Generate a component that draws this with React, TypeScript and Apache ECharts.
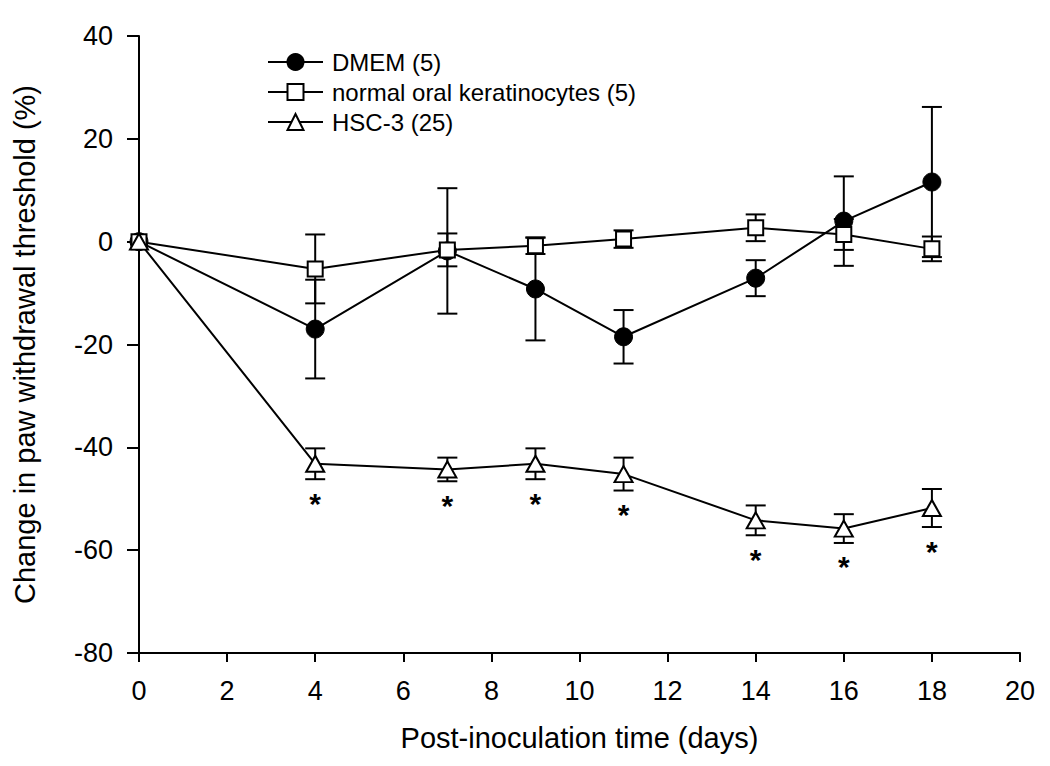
import React, { useEffect, useRef } from "react";
import * as echarts from "echarts";

const days = [0, 4, 7, 9, 11, 14, 16, 18];
const dmemMean = [0, -17.0, -1.8, -9.2, -18.5, -7.1, 4.0, 11.6];
const dmemErr = [0, 9.6, 12.2, 10.0, 5.2, 3.5, 8.7, 14.6];
const nokMean = [0, -5.3, -1.6, -0.8, 0.5, 2.7, 1.4, -1.4];
const nokErr = [0, 6.7, 3.2, 1.6, 1.7, 2.6, 3.0, 2.4];
const hscMean = [0, -43.2, -44.3, -43.2, -45.2, -54.2, -55.8, -51.8];
const hscErr = [0, 3.0, 2.3, 3.0, 3.2, 2.9, 2.8, 3.7];
const hscSignificant = [false, true, true, true, true, true, true, true];

const seriesNames = ["DMEM (5)", "normal oral keratinocytes (5)", "HSC-3 (25)"];
const xTicks = { min: 0, max: 20, interval: 2 };
const yTicks = { min: -80, max: 40, interval: 20 };

const FONT = "Liberation Sans, Arial, sans-serif";

function points(mean: number[]) {
  return days.map((d, i) => [d, mean[i]]);
}
function errData(mean: number[], err: number[]) {
  return days
    .map((d, i) => [d, mean[i] - err[i], mean[i] + err[i]])
    .filter((_, i) => err[i] > 0);
}

function errorSeries(mean: number[], err: number[]) {
  return {
    type: "custom",
    z: 1,
    silent: true,
    data: errData(mean, err),
    renderItem: (params: any, api: any) => {
      const x = api.value(0);
      const lo = api.coord([x, api.value(1)]);
      const hi = api.coord([x, api.value(2)]);
      const hw = 10;
      const style = { stroke: "#000", lineWidth: 2 };
      return {
        type: "group",
        children: [
          { type: "line", shape: { x1: lo[0], y1: lo[1], x2: hi[0], y2: hi[1] }, style },
          { type: "line", shape: { x1: lo[0] - hw, y1: lo[1], x2: lo[0] + hw, y2: lo[1] }, style },
          { type: "line", shape: { x1: hi[0] - hw, y1: hi[1], x2: hi[0] + hw, y2: hi[1] }, style },
        ],
      };
    },
  };
}

export default function App() {
  const ref = useRef<HTMLDivElement>(null);
  useEffect(() => {
    if (!ref.current) return;
    const chart = echarts.init(ref.current, null, { renderer: "svg" });
    const lineBase = {
      type: "line",
      z: 3,
      lineStyle: { color: "#000", width: 2 },
      itemStyle: { color: "#000", borderColor: "#000", borderWidth: 2 },
    };
    const starData = days
      .map((d, i) => [d, hscMean[i] - hscErr[i]])
      .filter((_, i) => hscSignificant[i]);
    chart.setOption({
      animation: false,
      backgroundColor: "#fff",
      grid: { left: 139, top: 36, width: 881, height: 617 },
      legend: {
        left: 262,
        top: 45,
        orient: "vertical",
        itemWidth: 55,
        itemHeight: 20,
        itemGap: 6,
        textStyle: { fontSize: 24, fontFamily: FONT, color: "#000", padding: [0, 0, 0, 4] },
        data: seriesNames,
      },
      xAxis: {
        type: "value",
        min: xTicks.min,
        max: xTicks.max,
        interval: xTicks.interval,
        name: "Post-inoculation time (days)",
        nameLocation: "middle",
        nameGap: 70,
        nameTextStyle: { fontSize: 29, fontFamily: FONT, color: "#000" },
        axisLine: { show: true, onZero: false, lineStyle: { color: "#000", width: 2 } },
        axisTick: { show: true, inside: false, length: 9, lineStyle: { color: "#000", width: 2 } },
        axisLabel: { fontSize: 27, fontFamily: FONT, color: "#000", margin: 24 },
        splitLine: { show: false },
      },
      yAxis: {
        type: "value",
        min: yTicks.min,
        max: yTicks.max,
        interval: yTicks.interval,
        name: "Change in paw withdrawal threshold (%)",
        nameLocation: "middle",
        nameGap: 100,
        nameTextStyle: { fontSize: 29, fontFamily: FONT, color: "#000" },
        axisLine: { show: true, onZero: false, lineStyle: { color: "#000", width: 2 } },
        axisTick: { show: true, inside: false, length: 12, lineStyle: { color: "#000", width: 2 } },
        axisLabel: { fontSize: 27, fontFamily: FONT, color: "#000", margin: 26 },
        splitLine: { show: false },
      },
      series: [
        errorSeries(dmemMean, dmemErr),
        errorSeries(nokMean, nokErr),
        errorSeries(hscMean, hscErr),
        {
          ...lineBase,
          name: seriesNames[0],
          data: points(dmemMean),
          symbol: "circle",
          symbolSize: 18,
          itemStyle: { color: "#000", borderColor: "#000", borderWidth: 1 },
        },
        {
          ...lineBase,
          name: seriesNames[1],
          data: points(nokMean),
          symbol: "rect",
          symbolSize: 15,
          z: 4,
          itemStyle: { color: "#fff", borderColor: "#000", borderWidth: 2 },
        },
        {
          ...lineBase,
          name: seriesNames[2],
          data: points(hscMean),
          symbol: "triangle",
          symbolSize: [18, 16],
          z: 5,
          itemStyle: { color: "#fff", borderColor: "#000", borderWidth: 2 },
        },
        {
          type: "custom",
          z: 6,
          silent: true,
          data: starData,
          renderItem: (params: any, api: any) => {
            const p = api.coord([api.value(0), api.value(1)]);
            return {
              type: "text",
              x: p[0],
              y: p[1] + 9,
              style: {
                text: "*",
                fontSize: 30,
                fontWeight: "bold",
                fontFamily: FONT,
                fill: "#000",
                align: "center",
                verticalAlign: "top",
              },
            };
          },
        },
      ],
    });
    return () => chart.dispose();
  }, []);
  return (
    <div
      ref={ref}
      style={{ position: "absolute", left: 0, top: 0, width: 1050, height: 766, background: "#fff" }}
    />
  );
}
